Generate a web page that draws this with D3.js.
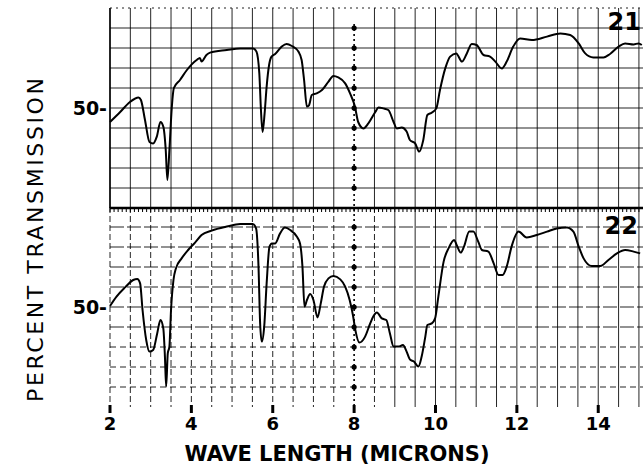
<!DOCTYPE html>
<html>
<head>
<meta charset="utf-8">
<script src="https://cdn.jsdelivr.net/npm/d3@7"></script>
<style>
  body { margin: 0; background: #fff; }
  svg { display: block; }
</style>
</head>
<body>
<script>
// Spectrum 21 (upper panel): wavelength in microns, percent transmission
const wave21 = [2.0, 2.25, 2.49, 2.70, 2.76, 2.86, 2.97, 3.06, 3.15, 3.24, 3.31, 3.37, 3.41, 3.46, 3.52, 3.57,
  3.72, 3.89, 4.13, 4.21, 4.25, 4.37, 4.46, 4.87, 5.20, 5.52, 5.60, 5.67, 5.71, 5.75, 5.80, 5.85, 5.91, 5.97,
  6.06, 6.22, 6.34, 6.47, 6.63, 6.71, 6.77, 6.84, 6.89, 6.96, 7.08, 7.21, 7.37, 7.49, 7.61, 7.78, 7.90, 8.02,
  8.10, 8.23, 8.35, 8.52, 8.60, 8.72, 8.84, 8.97, 9.05, 9.17, 9.29, 9.37, 9.50, 9.60, 9.70, 9.80, 9.91, 10.02,
  10.11, 10.24, 10.36, 10.51, 10.65, 10.77, 10.89, 11.01, 11.18, 11.34, 11.47, 11.63, 11.75, 11.91, 12.08,
  12.37, 12.74, 13.07, 13.31, 13.52, 13.68, 13.88, 14.13, 14.29, 14.50, 14.66, 14.87, 14.99, 15.07];
const trans21 = [43, 48, 53, 55.3, 54, 44, 33, 32.3, 35.7, 43, 40.7, 29, 14, 29, 50.7, 60,
  64, 69, 74, 75, 73.2, 76.5, 77.7, 79, 79.8, 79.8, 78.2, 67.3, 49, 38, 47.3, 60.7, 71.5, 75.7,
  77, 80.7, 82, 81, 78.2, 74, 64, 50.7, 51.3, 56.5, 57.3, 59, 63.2, 66, 65.3, 62.3, 57.3, 50.7,
  43, 39.8, 42.3, 48, 50.3, 49.8, 49, 43, 39.8, 40.2, 38.2, 34, 32.3, 28.2, 34, 46.5, 47.7, 49.8,
  59, 69.8, 75.7, 77.3, 73.2, 77.3, 82, 81.5, 76.5, 75.7, 73.2, 69.8, 73.2, 80.7, 84.8,
  84, 85.7, 87.3, 86.5, 82.3, 77.3, 75.3, 75.3, 77, 80.7, 82.3, 81.8, 82.3, 81.5];

// Spectrum 22 (lower panel)
const wave22 = [2.0, 2.16, 2.37, 2.57, 2.67, 2.74, 2.80, 2.89, 2.97, 3.06, 3.16, 3.24, 3.31, 3.35, 3.38, 3.42,
  3.46, 3.50, 3.56, 3.62, 3.76, 3.92, 4.09, 4.25, 4.50, 4.87, 5.20, 5.51, 5.59, 5.65, 5.69, 5.73, 5.79, 5.85,
  5.92, 5.98, 6.06, 6.18, 6.30, 6.43, 6.59, 6.67, 6.73, 6.78, 6.84, 6.92, 7.00, 7.10, 7.18, 7.26, 7.37, 7.49,
  7.66, 7.78, 7.89, 7.97, 8.03, 8.13, 8.27, 8.39, 8.47, 8.56, 8.68, 8.79, 8.88, 8.97, 9.09, 9.20, 9.29, 9.37,
  9.47, 9.58, 9.66, 9.75, 9.80, 9.91, 9.99, 10.07, 10.20, 10.32, 10.46, 10.52, 10.62, 10.70, 10.83, 10.93,
  11.05, 11.14, 11.30, 11.43, 11.55, 11.65, 11.75, 11.87, 12.04, 12.24, 12.49, 12.74, 12.98, 13.23, 13.39,
  13.52, 13.64, 13.84, 14.05, 14.25, 14.46, 14.66, 14.87, 15.03];
const trans22 = [50.5, 55.2, 59.8, 63.5, 64, 61.8, 48.5, 33.5, 27.7, 28.5, 36.8, 43.5, 39.3, 25.2, 10.2, 26.8,
  30.2, 48.5, 63.5, 69.3, 74.3, 78.5, 82.2, 86, 88.2, 90.2, 91.5, 91.5, 89.3, 70.2, 41.8, 32.7, 40.2, 61.8,
  80.2, 81.8, 81.8, 86.8, 89.7, 88.5, 85.2, 81.8, 70.2, 50.2, 53.5, 56.5, 53.5, 44.8, 51.8, 60.2, 64.3, 65.5,
  63.8, 60.2, 53.5, 46, 38.5, 32.2, 35.2, 41.5, 45.2, 47.2, 44.3, 43.5, 36.8, 30.2, 30.2, 31, 27.7, 23.8,
  22.7, 20.2, 25.2, 35.2, 41, 41.8, 44.3, 55.2, 72.7, 79.3, 83.5, 81, 77.2, 80.2, 87.7, 87.7,
  82.7, 78.5, 77.7, 71.8, 66, 66, 70.2, 80.2, 87.7, 84.8, 86, 87.7, 89.3, 89.8, 87.7,
  80.2, 74.3, 70.5, 70.5, 73.5, 76.8, 78.5, 77.7, 76.8];

const xTicks = [2, 4, 6, 8, 10, 12, 14];
const panelLabels = ["21", "22"];
const yLabel = "50-";

const width = 643;
const height = 470;

const svg = d3.select("body").append("svg")
    .attr("width", width)
    .attr("height", height)
    .attr("viewBox", [0, 0, width, height]);

const x = d3.scaleLinear().domain([2, 15.1]).range([110, 643]);
const yTop = d3.scaleLinear().domain([0, 100]).range([208, 8]);
const yBot = d3.scaleLinear().domain([0, 100]).range([407, 207]);

const vGrid = d3.range(2, 15.01, 0.5);
const hGrid = d3.range(0, 101, 10);

// chart paper grid for each panel
[yTop, yBot].forEach((y, i) => {
    const g = svg.append("g").attr("stroke", "#000").attr("stroke-width", 1);
    g.selectAll("line.v").data(vGrid.filter(d => d !== 8)).join("line")
        .attr("x1", d => x(d)).attr("x2", d => x(d))
        .attr("y1", y(100)).attr("y2", y(0))
        .attr("stroke-dasharray", d => (i === 1 && d < 9) ? "6,3" : null)
        .attr("opacity", 0.85);
    g.selectAll("line.h").data(hGrid.filter(d => d > 0 && d < 100)).join("line")
        .attr("x1", x(2)).attr("x2", width)
        .attr("y1", d => y(d)).attr("y2", d => y(d))
        .attr("stroke-dasharray", (d) => (i === 1 && d < 40) ? "6,4" : (i === 1 ? "14,3" : null))
        .attr("opacity", 0.85);
});

// left edge of the upper panel
svg.append("line")
    .attr("x1", x(2)).attr("x2", x(2))
    .attr("y1", yTop(100)).attr("y2", yTop(0))
    .attr("stroke", "#000").attr("stroke-width", 1.5);

// top edge (dotted) and panel separator (heavy ruler)
svg.append("line")
    .attr("x1", x(2)).attr("x2", width)
    .attr("y1", yTop(100)).attr("y2", yTop(100))
    .attr("stroke", "#222").attr("stroke-width", 1.2)
    .attr("stroke-dasharray", "2,4");
svg.append("line")
    .attr("x1", x(2)).attr("x2", width)
    .attr("y1", yTop(0)).attr("y2", yTop(0))
    .attr("stroke", "#000").attr("stroke-width", 2.4);
svg.append("g").selectAll("line").data(d3.range(2, 15.1, 0.1)).join("line")
    .attr("x1", d => x(d)).attr("x2", d => x(d))
    .attr("y1", yTop(0)).attr("y2", yTop(0) + 4)
    .attr("stroke", "#000").attr("stroke-width", 1);

// heavy dotted marker at 8 microns
svg.append("line")
    .attr("x1", x(8)).attr("x2", x(8))
    .attr("y1", yTop(92)).attr("y2", yBot(0))
    .attr("stroke", "#000").attr("stroke-width", 1.6)
    .attr("stroke-dasharray", "2,3");
svg.append("g").selectAll("circle").data(hGrid.slice(1, 10)).join("circle")
    .attr("cx", x(8)).attr("cy", d => yTop(d)).attr("r", 2.6).attr("fill", "#000");
svg.append("g").selectAll("circle").data(hGrid.slice(1, 10)).join("circle")
    .attr("cx", x(8)).attr("cy", d => yBot(d)).attr("r", 2.6).attr("fill", "#000");

// spectra
const line = y => d3.line()
    .x(d => x(d[0]))
    .y(d => y(d[1]))
    .curve(d3.curveMonotoneX);

svg.append("path")
    .datum(d3.zip(wave21, trans21))
    .attr("fill", "none")
    .attr("stroke", "#000")
    .attr("stroke-width", 2)
    .attr("stroke-linejoin", "round")
    .attr("d", line(yTop));

svg.append("path")
    .datum(d3.zip(wave22, trans22))
    .attr("fill", "none")
    .attr("stroke", "#000")
    .attr("stroke-width", 2)
    .attr("stroke-linejoin", "round")
    .attr("d", line(yBot));

// panel numbers
svg.append("text")
    .attr("x", 641).attr("y", 30)
    .attr("text-anchor", "end")
    .attr("font-family", "DejaVu Sans")
    .attr("font-weight", "bold")
    .attr("font-size", 24)
    .text(panelLabels[0]);
svg.append("text")
    .attr("x", 638).attr("y", 234)
    .attr("text-anchor", "end")
    .attr("font-family", "DejaVu Sans")
    .attr("font-weight", "bold")
    .attr("font-size", 24)
    .text(panelLabels[1]);

// 50 labels
[yTop, yBot].forEach(y => {
    svg.append("text")
        .attr("x", 107).attr("y", y(50) + 7)
        .attr("text-anchor", "end")
        .attr("font-family", "DejaVu Sans")
        .attr("font-weight", "bold")
        .attr("font-size", 19)
        .text(yLabel);
});

// x axis tick marks and labels
const xAxis = svg.append("g");
xAxis.selectAll("line").data(xTicks).join("line")
    .attr("x1", d => x(d)).attr("x2", d => x(d))
    .attr("y1", 405).attr("y2", 413)
    .attr("stroke", "#000").attr("stroke-width", 3);
xAxis.selectAll("text").data(xTicks).join("text")
    .attr("x", d => x(d)).attr("y", 430)
    .attr("text-anchor", "middle")
    .attr("font-family", "DejaVu Sans")
    .attr("font-weight", "bold")
    .attr("font-size", 18)
    .text(d => d);

// axis titles
svg.append("text")
    .attr("x", 337).attr("y", 461)
    .attr("text-anchor", "middle")
    .attr("font-family", "DejaVu Sans")
    .attr("font-weight", "bold")
    .attr("font-size", 21)
    .attr("textLength", 305)
    .text("WAVE LENGTH (MICRONS)");

svg.append("text")
    .attr("transform", "translate(43,240) rotate(-90)")
    .attr("text-anchor", "middle")
    .attr("font-family", "DejaVu Sans")
    .attr("font-size", 22)
    .attr("textLength", 324)
    .text("PERCENT TRANSMISSION");
</script>
</body>
</html>
